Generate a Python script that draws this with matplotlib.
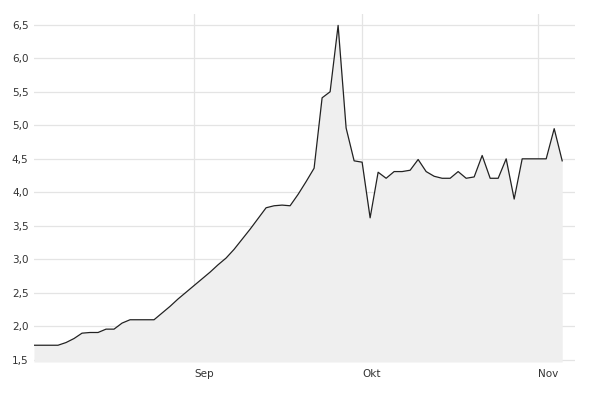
import matplotlib
matplotlib.use("Agg")
import matplotlib.pyplot as plt
import pandas as pd

# Business days from 2023-08-04 to 2023-11-06
start_date = "2023-08-04"
end_date = "2023-11-06"

values = [
    1.72, 1.72, 1.72, 1.72, 1.76, 1.82, 1.90, 1.91, 1.91, 1.96,
    1.96, 2.05, 2.10, 2.10, 2.10, 2.10, 2.20, 2.30, 2.41, 2.51,
    2.61, 2.71, 2.81, 2.92, 3.02, 3.15, 3.30, 3.45, 3.61, 3.77,
    3.80, 3.81, 3.80, 3.97, 4.16, 4.36, 5.41, 5.50, 6.49, 4.96,
    4.47, 4.45, 3.62, 4.30, 4.21, 4.31, 4.31, 4.33, 4.49, 4.31,
    4.24, 4.21, 4.21, 4.31, 4.21, 4.23, 4.55, 4.21, 4.21, 4.50,
    3.90, 4.50, 4.50, 4.50, 4.50, 4.95, 4.47,
]

month_labels = ["Sep", "Okt", "Nov"]
month_starts = ["2023-09-01", "2023-10-02", "2023-11-01"]

y_ticks = [1.5, 2.0, 2.5, 3.0, 3.5, 4.0, 4.5, 5.0, 5.5, 6.0, 6.5]

dates = pd.bdate_range(start_date, end_date)
idx = list(range(len(dates)))
date_pos = {d.strftime("%Y-%m-%d"): i for i, d in enumerate(dates)}
tick_pos = [date_pos[m] for m in month_starts]

W, H = 592, 393
fig = plt.figure(figsize=(W / 100, H / 100), dpi=100)
left, right, top, bottom = 34, 575, 14, 362
ax = fig.add_axes([left / W, 1 - bottom / H, (right - left) / W, (bottom - top) / H])

ymin, ymax = 1.47, 6.66
ax.fill_between(idx, values, ymin, color="#efefef", lw=0, zorder=1)
ax.plot(idx, values, color="#222222", lw=0.9, zorder=3)

ax.set_xlim(0, 67.6)
ax.set_ylim(ymin, ymax)

ax.set_yticks(y_ticks)
ax.set_yticklabels([f"{v:.1f}".replace(".", ",") for v in y_ticks])
ax.set_xticks(tick_pos)
ax.set_xticklabels(month_labels, ha="left")

ax.grid(True, color="#e4e4e4", lw=0.9, zorder=0)
ax.set_axisbelow(True)
for s in ax.spines.values():
    s.set_visible(False)
ax.tick_params(axis="both", length=0, labelsize=7.5, colors="#333333")
ax.tick_params(axis="y", pad=4)
ax.tick_params(axis="x", pad=5)

fig.savefig("out.png", dpi=100, facecolor="white")
